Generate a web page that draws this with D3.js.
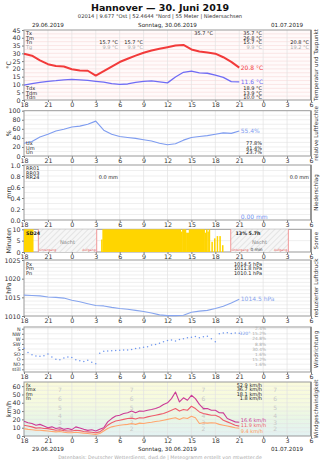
<!DOCTYPE html>
<html>
<head>
<meta charset="utf-8">
<script src="https://cdn.jsdelivr.net/npm/d3@7"></script>
<style>
body { margin: 0; background: #fff; }
svg { display: block; font-family: "DejaVu Sans", sans-serif; }
</style>
</head>
<body>
<div id="chart"></div>
<script>
// hours counted from 29.06.2019 18:00 (UTC)
const hourTicks = d3.range(0, 37, 3);
const hours = d3.range(0, 28);
const halfHours = d3.range(0, 27.5, 0.5);

const temp = [29.7, 28.5, 25.5, 23.0, 21.8, 21.5, 19.8, 19.0, 18.8, 15.7, 18.5, 21.5, 24.4, 26.5,
    28.5, 30.4, 31.8, 32.9, 33.9, 35.0, 35.4, 32.5, 31.2, 30.6, 29.8, 27.5, 24.5, 20.8];
const dewPoint = [9.5, 10.5, 11.3, 12.0, 12.4, 13.0, 13.2, 13.0, 12.6, 12.0, 11.5, 10.5, 10.0, 10.3,
    11.3, 12.0, 12.3, 11.6, 11.0, 14.8, 17.8, 18.6, 17.5, 17.2, 16.0, 14.5, 11.8, 11.6];
const humidity = [28, 32, 42, 48, 55, 59, 64, 66, 70, 77, 57, 48, 43, 41, 39, 36, 33, 28, 25, 27,
    35, 41, 43, 45, 48, 51, 50, 55.4];
const pressure = [1015.6, 1015.5, 1015.4, 1015.1, 1015.0, 1014.8, 1014.2, 1013.8, 1013.3, 1012.8,
    1012.7, 1012.3, 1012.0, 1011.8, 1011.5, 1011.2, 1010.8, 1010.3, 1010.1, 1010.1, 1010.2, 1011.0,
    1011.3, 1011.5, 1012.0, 1012.6, 1013.5, 1014.5];
const windDir = [186, 150, 128, 118, 115, 120, 135, 110, 88, 85, 100, 110, 105, 85, 75, 70, 80, 62, 50,
    142, 160, 162, 165, 166, 168, 170, 172, 175, 185, 188, 195, 200, 215, 220, 230, 245, 255, 260, 250,
    265, 270, 280, 285, 290, 280, 288, 292, 270, 245, 315, 322, 325, 318, 322, 320];
const gust = [17.7, 16, 15, 13, 14, 12, 10, 11, 9, 10, 8, 9, 7.7, 11, 9.7, 8, 6.8, 7.5, 6, 8, 10, 17, 21,
    24, 25, 27, 28, 30, 28, 30, 29.8, 31, 31.8, 33, 35, 38, 40, 45, 52.9, 41, 46, 43, 49, 45, 38, 33, 33,
    31, 31, 28, 27.8, 21, 19, 17, 16.6];
const windMax = [12.9, 12, 11, 9.5, 10, 9, 8.9, 8, 7, 7.5, 6.5, 6, 6, 7, 6.5, 5.5, 5, 4.5, 4, 5, 8.5, 13,
    16, 18, 19, 20, 21, 21.5, 20.5, 22, 21.7, 23, 24, 25, 26, 27, 29, 31, 33, 30, 32, 31, 35.8, 33, 29,
    27, 26, 25, 25, 23, 19, 17, 15, 13, 11.9];
const windMean = [8.9, 8, 7.5, 7, 7, 6.5, 6, 5.5, 5, 5.5, 4.5, 4, 4, 4.5, 4, 3.5, 3, 2.5, 2, 3, 6, 9, 11,
    12, 12.9, 13.5, 14, 15, 14, 15.5, 15, 16, 16.5, 17.5, 18, 19, 20, 21, 22, 20, 22, 21, 23.8, 22, 15,
    16, 15.5, 16, 15.7, 14, 13, 12, 11, 10, 9.4];
// sunshine minutes per 10 min: [from h, to h, minutes]
const sunshine = [[0, 1.17, 10], [9.67, 9.83, 5.5], [9.83, 19.67, 10], [19.67, 19.83, 9],
    [19.83, 20.33, 10], [20.33, 20.67, 8.5], [20.67, 22.67, 10], [22.67, 22.83, 8.5],
    [22.83, 23.0, 10], [23.0, 23.17, 9], [23.17, 23.33, 10], [23.5, 23.67, 4.5],
    [23.83, 24.0, 6], [24.17, 24.33, 7], [24.5, 24.67, 7], [24.83, 25.0, 3]];
const nights = [[1.8, 9.12], [25.93, 33.16]];
const dirNames = ["N", "NW", "W", "SW", "S", "SO", "O", "NO", "still"];
const dirDegrees = [360, 315, 270, 225, 180, 135, 90, 45, 0];
const dirShares = ["2.4%", "15.2%", "24.8%", "8.8%", "30.4%", "1.6%", "15.2%", "1.6%"];
const beaufortMid = [8.5, 15.5, 24, 33.5, 44, 55.5];
const beaufortNames = ["2", "3", "4", "5", "6", "7"];

const width = 320, height = 460;
const x0 = 24, x1 = 311;

const svg = d3.select("#chart").append("svg")
    .attr("width", width).attr("height", height)
    .attr("viewBox", `0 0 ${width} ${height}`);

const defs = svg.append("defs");
const hatch = defs.append("pattern")
    .attr("id", "hatch").attr("width", 4).attr("height", 4)
    .attr("patternUnits", "userSpaceOnUse")
    .attr("patternTransform", "rotate(45)");
hatch.append("rect").attr("width", 4).attr("height", 4).attr("fill", "#f6f6f6");
hatch.append("line").attr("x1", 0).attr("y1", 0).attr("x2", 0).attr("y2", 4)
    .attr("stroke", "#c8c8c8").attr("stroke-width", 0.8);

const windGrad = defs.append("linearGradient")
    .attr("id", "windbg").attr("x1", 0).attr("y1", 0).attr("x2", 0).attr("y2", 1);
windGrad.append("stop").attr("offset", "0%").attr("stop-color", "#fbfbdc");
windGrad.append("stop").attr("offset", "40%").attr("stop-color", "#f5fadf");
windGrad.append("stop").attr("offset", "70%").attr("stop-color", "#e8f6e6");
windGrad.append("stop").attr("offset", "100%").attr("stop-color", "#e3f2f3");

const x = d3.scaleLinear().domain([0, 36]).range([x0, x1]);

function txt(px, py, s, opt = {}) {
    return svg.append("text")
        .attr("x", px).attr("y", py)
        .attr("text-anchor", opt.anchor || "start")
        .attr("fill", opt.color || "#222")
        .attr("font-weight", opt.bold ? "bold" : null)
        .style("font-size", (opt.size || 5) + "px")
        .text(s);
}

function panel(p) {
    const y = d3.scaleLinear().domain(p.domain).range([p.bottom, p.top]);
    const g = svg.append("g");
    g.append("rect")
        .attr("x", x0).attr("y", p.top)
        .attr("width", x1 - x0).attr("height", p.bottom - p.top)
        .attr("fill", p.fill || "#fff");

    if (p.hgrid) {
        g.append("g").selectAll("line").data(p.hgrid).join("line")
            .attr("x1", x0).attr("x2", x1)
            .attr("y1", d => y(d)).attr("y2", d => y(d))
            .attr("stroke", p.hgridColor || "#e4e4e4").attr("stroke-width", 0.6);
    }
    g.append("g").selectAll("line").data(hourTicks.slice(1, -1)).join("line")
        .attr("x1", d => x(d)).attr("x2", d => x(d))
        .attr("y1", p.top).attr("y2", p.bottom)
        .attr("stroke", "#e2e2e2").attr("stroke-width", 0.7);

    const yAxis = d3.axisLeft(y).tickValues(p.ticks).tickSize(2).tickPadding(1.5);
    if (p.fmt) yAxis.tickFormat(p.fmt);
    g.append("g")
        .attr("transform", `translate(${x0},0)`)
        .call(yAxis)
        .call(s => {
            s.attr("font-size", null).attr("font-family", null);
            s.select(".domain").remove();
            s.selectAll(".tick line").attr("stroke", "#777");
            s.selectAll("text").attr("fill", "#333").style("font-size", (p.tickSize || 6.3) + "px");
        });

    g.append("g")
        .attr("transform", `translate(0,${p.bottom})`)
        .call(d3.axisBottom(x).tickValues(hourTicks).tickSize(2).tickPadding(0.5)
            .tickFormat(h => (18 + h) % 24))
        .call(s => {
            s.attr("font-size", null).attr("font-family", null);
            s.select(".domain").remove();
            s.selectAll(".tick line").attr("stroke", "#777");
            s.selectAll("text").attr("fill", "#333").style("font-size", "6.3px");
        });

    g.append("rect")
        .attr("x", x0).attr("y", p.top)
        .attr("width", x1 - x0).attr("height", p.bottom - p.top)
        .attr("fill", "none").attr("stroke", "#999").attr("stroke-width", 1);
    g.append("line")
        .attr("x1", x1).attr("x2", x1).attr("y1", p.top).attr("y2", p.bottom)
        .attr("stroke", "#888").attr("stroke-width", 1.6);

    const mid = (p.top + p.bottom) / 2;
    svg.append("text")
        .attr("transform", `translate(316.5,${mid}) rotate(-90)`)
        .attr("text-anchor", "middle").attr("dominant-baseline", "middle")
        .attr("fill", "#333").style("font-size", "5.6px")
        .text(p.side);
    if (p.unit) {
        svg.append("text")
            .attr("transform", `translate(9,${mid}) rotate(-90)`)
            .attr("text-anchor", "middle").attr("dominant-baseline", "middle")
            .attr("fill", "#333").style("font-size", "6.3px")
            .text(p.unit);
    }
    return y;
}

function line(data, xs, y, color, w) {
    svg.append("path")
        .datum(data.map((v, i) => [xs[i], v]))
        .attr("fill", "none").attr("stroke", color).attr("stroke-width", w)
        .attr("stroke-linejoin", "round")
        .attr("d", d3.line().x(d => x(d[0])).y(d => y(d[1])));
}

// header
txt(160, 10.5, "Hannover  \u2014  30. Juni 2019", { anchor: "middle", bold: true, size: 9.5, color: "#111" });
txt(160, 18.2, "02014  |  9.677 \u00b0Ost  |  52.4644 \u00b0Nord  |  55 Meter  |  Niedersachsen", { anchor: "middle", size: 5.2, color: "#333" });
const dayLabels = [["29.06.2019", (x(0) + x(6)) / 2], ["Sonntag, 30.06.2019", (x(6) + x(30)) / 2], ["01.07.2019", (x(30) + x(36)) / 2]];
dayLabels.forEach(([s, px]) => {
    txt(px, 26.5, s, { anchor: "middle", size: 5.6, color: "#222" });
    txt(px, 451, s, { anchor: "middle", size: 5.6, color: "#222" });
});
txt(160, 458.5, "Datenbasis: Deutscher Wetterdienst, dwd.de  |  Meteogramm erstellt von mtwetter.de", { anchor: "middle", size: 4.8, color: "#aaa" });

// 1 temperature
const yT = panel({ top: 30, bottom: 100, domain: [0, 45], ticks: d3.range(0, 46, 5),
    hgrid: d3.range(2.5, 45, 2.5), hgridColor: "#f6d8d8", fill: "#fffafa",
    side: "Temperatur und Taupunkt", unit: "\u00b0C" });
line(dewPoint, hours, yT, "#6f6cf5", 1.3);
line(temp, hours, yT, "#f23a3a", 2);
["Tx", "Tm", "Tn"].forEach((s, i) => txt(26, 35 + i * 4.6, s));
txt(26, 48.8, "Tg", { color: "#aaa" });
[["35.7 \u00b0C", "#222"], ["26.8 \u00b0C", "#222"], ["15.7 \u00b0C", "#222"], ["9.9 \u00b0C", "#aaa"]]
    .forEach(([s, c], i) => txt(262, 35 + i * 4.6, s, { anchor: "end", color: c }));
txt(213, 35, "35.7 \u00b0C", { anchor: "end" });
txt(118, 44.2, "15.7 \u00b0C", { anchor: "end" });
txt(118, 48.8, "9.9 \u00b0C", { anchor: "end", color: "#aaa" });
txt(143, 44.2, "15.7 \u00b0C", { anchor: "end" });
txt(143, 48.8, "9.9 \u00b0C", { anchor: "end", color: "#aaa" });
txt(309, 44.2, "20.8 \u00b0C", { anchor: "end" });
txt(309, 48.8, "19.2 \u00b0C", { anchor: "end", color: "#aaa" });
["Tdx", "Tdm", "Tdn"].forEach((s, i) => txt(26, 90 + i * 4.6, s));
["18.9 \u00b0C", "13.9 \u00b0C", "10.0 \u00b0C"].forEach((s, i) => txt(262, 90 + i * 4.6, s, { anchor: "end" }));
txt(x(27) + 1.5, yT(20.8) + 2, "20.8 \u00b0C", { color: "#f23a3a", size: 6 });
txt(x(27) + 1.5, yT(11.6) + 2, "11.6 \u00b0C", { color: "#6f6cf5", size: 6 });

// 2 humidity
const yH = panel({ top: 110.7, bottom: 156, domain: [0, 100], ticks: d3.range(0, 101, 20),
    hgrid: d3.range(10, 100, 10), side: "relative Luftfeuchte", unit: "%" });
line(humidity, hours, yH, "#7e9cf0", 1.1);
["Ux", "Um", "Un"].forEach((s, i) => txt(26, 145 + i * 4.6, s));
["77.8%", "41.4%", "23.7%"].forEach((s, i) => txt(262, 145 + i * 4.6, s, { anchor: "end" }));
txt(x(27) + 1.5, yH(55.4) + 2, "55.4%", { color: "#7e9cf0", size: 6 });

// 3 precipitation
const yR = panel({ top: 165, bottom: 220, domain: [0, 1], ticks: d3.range(0, 1.01, 0.2),
    fmt: d3.format(".1f"), hgrid: d3.range(0.1, 1, 0.1), side: "Niederschlag", unit: "mm" });
["RR01", "RR03", "RR24"].forEach((s, i) => txt(26, 170 + i * 4.6, s));
txt(118, 179.2, "0.0 mm", { anchor: "end" });
txt(309, 179.2, "0.0 mm", { anchor: "end" });
txt(x(27) + 1.5, yR(0) - 1.5, "0.00 mm", { color: "#6f8ff0", size: 6 });

// 4 sunshine
const yS = panel({ top: 229.3, bottom: 252, domain: [0, 10], ticks: [0, 5, 10],
    hgrid: [5], side: "Sonne", unit: "Minuten" });
nights.forEach(([a, b]) => {
    svg.append("rect").attr("x", x(a)).attr("y", yS(10)).attr("width", x(b) - x(a))
        .attr("height", yS(0) - yS(10)).attr("fill", "url(#hatch)");
    [a, b].forEach(t => svg.append("line").attr("x1", x(t)).attr("x2", x(t))
        .attr("y1", yS(10)).attr("y2", yS(0)).attr("stroke", "#f08080").attr("stroke-width", 0.8));
    txt((x(a) + x(b)) / 2, 243.5, "Nacht", { anchor: "middle", color: "#888", size: 5.2 });
    txt(x(a) + 1, 250.8, "Untergang", { color: "#e86060", size: 3.2 });
    txt(x(b) - 1, 250.8, "Aufgang", { anchor: "end", color: "#e86060", size: 3.2 });
});
svg.append("g").selectAll("rect").data(sunshine).join("rect")
    .attr("x", d => x(d[0])).attr("width", d => x(d[1]) - x(d[0]) + 0.2)
    .attr("y", d => yS(d[2])).attr("height", d => yS(0) - yS(d[2]))
    .attr("fill", "#ffd500");
txt(26, 234.8, "SD24", { bold: true, size: 4.8 });
txt(248, 234.8, "13% 5.7h", { anchor: "middle", bold: true, size: 4.8 });
txt(256.5, 251, "0 min", { anchor: "middle", size: 4.3, color: "#333" });

// 5 pressure
const yP = panel({ top: 260, bottom: 316, domain: [1010, 1025], ticks: [1010, 1015, 1020, 1025],
    fmt: d3.format("d"), hgrid: d3.range(1011, 1025, 1), side: "reduzierter Luftdruck", unit: "hPa" });
line(pressure, hours, yP, "#87a5ee", 1.1);
["Px", "Pm", "Pn"].forEach((s, i) => txt(26, 265.5 + i * 4.6, s));
["1014.5 hPa", "1011.8 hPa", "1010.1 hPa"].forEach((s, i) => txt(262, 265.5 + i * 4.6, s, { anchor: "end" }));
txt(x(27) + 1.5, yP(1014.5) + 2, "1014.5 hPa", { color: "#87a5ee", size: 6 });

// 6 wind direction
const yD = panel({ top: 327, bottom: 372, domain: [-24, 375], ticks: dirDegrees, tickSize: 4.8,
    fmt: (d, i) => dirNames[i], hgrid: dirDegrees, side: "Windrichtung" });
svg.append("g").selectAll("circle").data(windDir).join("circle")
    .attr("cx", (d, i) => x(halfHours[i])).attr("cy", d => yD(d))
    .attr("r", 0.75).attr("fill", "#6d95ee");
dirShares.forEach((s, i) => txt(266, yD(dirDegrees[i]) + 1.6, s, { anchor: "end", color: "#aaa", size: 4.3 }));
txt(x(27) + 0.3, yD(320) + 1.8, "320\u00b0", { color: "#6d95ee", size: 4.5 });

// 7 wind speed
const yW = panel({ top: 382, bottom: 436, domain: [0, 65], ticks: d3.range(0, 61, 10),
    hgrid: d3.range(5, 65, 5), fill: "url(#windbg)", side: "Windgeschwindigkeit", unit: "km/h" });
[4.5, 13.5, 22.5, 31.5].forEach(h => beaufortMid.forEach((v, i) =>
    svg.append("text").attr("x", x(h)).attr("y", yW(v))
        .attr("text-anchor", "middle").attr("dominant-baseline", "middle")
        .attr("fill", "#c8c8c8").style("font-size", "6px").text(beaufortNames[i])));
line(windMean, halfHours, yW, "#ffa66e", 1.1);
line(windMax, halfHours, yW, "#ee5c6c", 1.1);
line(gust, halfHours, yW, "#cc3a96", 1.1);
["fx", "fmx", "fm", "fn"].forEach((s, i) => txt(26, 386.5 + i * 4.6, s));
["52.9 km/h", "36.7 km/h", "18.1 km/h", "1.8 km/h"].forEach((s, i) => txt(262, 386.5 + i * 4.6, s, { anchor: "end" }));
txt(x(27) + 1.5, 422.2, "16.6 km/h", { color: "#cc3a96", size: 5 });
txt(x(27) + 1.5, 427.4, "11.9 km/h", { color: "#ee5c6c", size: 5 });
txt(x(27) + 1.5, 432.6, "9.4 km/h", { color: "#ff9a5c", size: 5 });
</script>
</body>
</html>
